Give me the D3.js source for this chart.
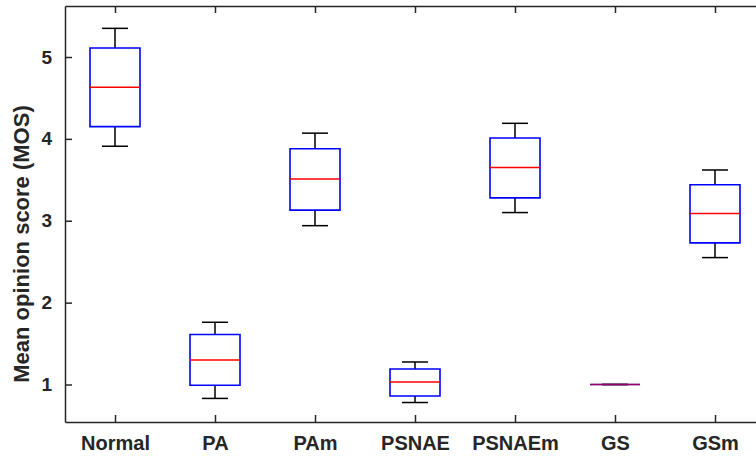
<!DOCTYPE html>
<html>
<head>
<meta charset="utf-8">
<script src="https://cdn.jsdelivr.net/npm/d3@7"></script>
<style>
  body { margin: 0; background: #fff; }
  svg text { font-family: "Liberation Sans", Arial, Helvetica, sans-serif; font-weight: bold; fill: #262626; }
</style>
</head>
<body>
<svg id="chart" width="756" height="460"></svg>
<script>
// box plot stats
const categories = ["Normal", "PA", "PAm", "PSNAE", "PSNAEm", "GS", "GSm"];
const upperWhisker = [5.35, 1.76, 4.07, 1.275, 4.19, 1.0, 3.62];
const q3 = [5.11, 1.61, 3.88, 1.19, 4.01, 1.0, 3.44];
const medians = [4.63, 1.30, 3.51, 1.03, 3.65, 1.0, 3.09];
const q1 = [4.15, 0.99, 3.13, 0.86, 3.28, 1.0, 2.73];
const lowerWhisker = [3.91, 0.83, 2.94, 0.78, 3.10, 1.0, 2.55];
const yTicks = [1, 2, 3, 4, 5];

const boxes = categories.map((c, i) => ({
	key: c, pos: i + 1,
	hi: upperWhisker[i], q3: q3[i], med: medians[i], q1: q1[i], lo: lowerWhisker[i]
}));

const svg = d3.select("#chart");
const plotLeft = 65, plotRight = 765, plotTop = 6, plotBottom = 422;

const xScale = d3.scaleLinear().domain([0.5, 7.5]).range([plotLeft, plotRight]);
const yScale = d3.scaleLinear().domain([0.542, 5.623]).range([plotBottom, plotTop]);

const axisColor = "#262626";
const boxW = 0.25, capW = 0.13;

// whiskers
const g = svg.append("g");
g.selectAll(".whisk-up").data(boxes).enter().append("line")
	.attr("x1", d => xScale(d.pos)).attr("x2", d => xScale(d.pos))
	.attr("y1", d => yScale(d.q3)).attr("y2", d => yScale(d.hi))
	.attr("stroke", "#000").attr("stroke-width", 1.5);
g.selectAll(".whisk-lo").data(boxes).enter().append("line")
	.attr("x1", d => xScale(d.pos)).attr("x2", d => xScale(d.pos))
	.attr("y1", d => yScale(d.q1)).attr("y2", d => yScale(d.lo))
	.attr("stroke", "#000").attr("stroke-width", 1.5);

// caps
["hi", "lo"].forEach(k => {
	g.selectAll(".cap-" + k).data(boxes).enter().append("line")
		.attr("x1", d => xScale(d.pos - capW)).attr("x2", d => xScale(d.pos + capW))
		.attr("y1", d => yScale(d[k])).attr("y2", d => yScale(d[k]))
		.attr("stroke", "#000").attr("stroke-width", 1.5);
});

// boxes as closed paths so a flat box (GS) still draws
g.selectAll(".box").data(boxes).enter().append("path")
	.attr("d", d => {
		const x0 = xScale(d.pos - boxW), x1 = xScale(d.pos + boxW);
		const yT = yScale(d.q3), yB = yScale(d.q1);
		return "M" + x0 + "," + yT + "H" + x1 + "V" + yB + "H" + x0 + "Z";
	})
	.attr("fill", "none").attr("stroke", "#0000ff").attr("stroke-width", 1.6);

// medians (flat box: red over blue looks purple)
g.selectAll(".med").data(boxes).enter().append("line")
	.attr("x1", d => xScale(d.pos - boxW)).attr("x2", d => xScale(d.pos + boxW))
	.attr("y1", d => yScale(d.med)).attr("y2", d => yScale(d.med))
	.attr("stroke", "#ff0000").attr("stroke-width", 1.5)
	.attr("stroke-opacity", d => d.q3 === d.q1 ? 0.6 : 1);

// axes (ticks inside, box on)
const xAxis = d3.axisBottom(xScale).tickValues(boxes.map(d => d.pos))
	.tickFormat((d, i) => categories[i]).tickSizeInner(-7).tickSizeOuter(0).tickPadding(14);
const gx = svg.append("g").attr("transform", "translate(0," + plotBottom + ")").call(xAxis);
gx.selectAll("text").attr("font-size", "20px").attr("dy", "0.71em");

const yAxis = d3.axisLeft(yScale).tickValues(yTicks).tickFormat(d3.format("d"))
	.tickSizeInner(-7).tickSizeOuter(0).tickPadding(13);
const gy = svg.append("g").attr("transform", "translate(" + plotLeft + ",0)").call(yAxis);
gy.selectAll("text").attr("font-size", "19px");

const xTop = d3.axisTop(xScale).tickValues(boxes.map(d => d.pos))
	.tickFormat("").tickSizeInner(-7).tickSizeOuter(0);
svg.append("g").attr("transform", "translate(0," + plotTop + ")").call(xTop);

svg.selectAll(".domain, .tick line").attr("stroke", axisColor).attr("stroke-width", 1.5);
svg.selectAll(".tick text").attr("fill", axisColor);
svg.selectAll("g").attr("font-family", null);

svg.append("text")
	.attr("transform", "translate(29," + ((plotTop + plotBottom) / 2 + 30) + ") rotate(-90)")
	.attr("text-anchor", "middle")
	.attr("font-size", "22px")
	.text("Mean opinion score (MOS)");
</script>
</body>
</html>
